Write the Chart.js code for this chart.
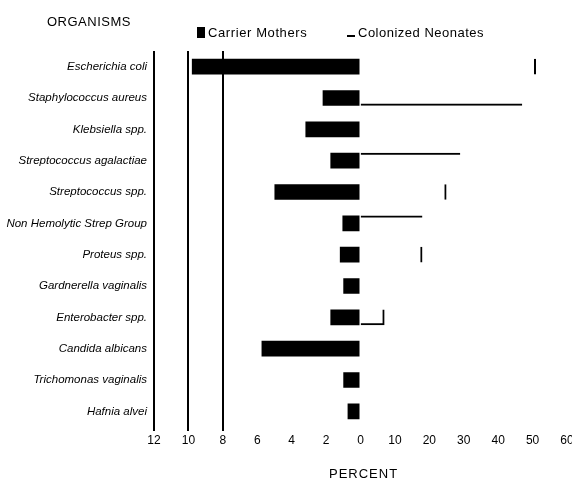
<!DOCTYPE html>
<html>
<head>
<meta charset="utf-8">
<script src="https://cdn.jsdelivr.net/npm/chart.js@4.4.0/dist/chart.umd.min.js"></script>
<style>
    body { margin: 0; background: #fff; }
    #wrap { position: relative; width: 572px; height: 482px; }
    #chart { position: absolute; left: 0; top: 0; }
    .txt { position: absolute; font-family: "Liberation Sans", Arial, sans-serif; color: #000; white-space: nowrap; }
    .sq { display: inline-block; width: 8px; height: 11px; background: #000; margin-right: 3px; vertical-align: -1px; }
    .dash { display: inline-block; width: 8px; height: 2px; background: #000; margin-right: 3px; vertical-align: 0; }
</style>
</head>
<body>
<div id="wrap">
    <canvas id="chart" width="572" height="482"></canvas>
    <div class="txt" style="left:47px;top:14px;font-size:13px;letter-spacing:0.5px;">ORGANISMS</div>
    <div class="txt" style="left:197px;top:25px;font-size:13px;letter-spacing:0.6px;"><span class="sq"></span>Carrier Mothers</div>
    <div class="txt" style="left:347px;top:25px;font-size:13px;letter-spacing:0.5px;"><span class="dash"></span>Colonized Neonates</div>
    <div class="txt" style="left:329px;top:466px;font-size:13px;letter-spacing:1px;">PERCENT</div>
</div>
<script>
// Organisms (rows, top to bottom)
const organisms = [
    'Escherichia coli',
    'Staphylococcus aureus',
    'Klebsiella spp.',
    'Streptococcus agalactiae',
    'Streptococcus spp.',
    'Non Hemolytic Strep Group',
    'Proteus spp.',
    'Gardnerella vaginalis',
    'Enterobacter spp.',
    'Candida albicans',
    'Trichomonas vaginalis',
    'Hafnia alvei'
];

// percent values
const carrierMothers = [9.8, 2.2, 3.2, 1.75, 5.0, 1.05, 1.2, 1.0, 1.75, 5.75, 1.0, 0.75];
const colonizedNeonates = [51, 47, 0, 29, 25, 18, 18, 0, 7, 0, 0, 0];

// tick labels of the two halves of the x axis
const leftTicks = [12, 10, 8, 6, 4, 2, 0];
const rightTicks = [10, 20, 30, 40, 50, 60];

// which edges of each neonate bar survive in the (scanned) original
const neonateEdges = [
    { right: 2 }, { bottom: 2 }, 0, { top: 2 }, { right: 2 }, { top: 2 },
    { right: 2 }, 0, { right: 2, bottom: 2 }, 0, 0, 0
];

const font = { family: '"Liberation Sans", Arial, sans-serif', size: 12 };

new Chart(document.getElementById('chart'), {
    type: 'bar',
    data: {
        labels: organisms,
        datasets: [
            {
                label: 'Carrier Mothers',
                data: carrierMothers,
                xAxisID: 'xl',
                backgroundColor: '#000',
                borderWidth: 0,
                barPercentage: 0.5,
                categoryPercentage: 1,
                grouped: false
            },
            {
                label: 'Colonized Neonates',
                data: colonizedNeonates,
                xAxisID: 'xr',
                backgroundColor: 'rgba(0,0,0,0)',
                borderColor: '#000',
                borderWidth: ctx => neonateEdges[ctx.dataIndex],
                borderSkipped: false,
                barPercentage: 0.5,
                categoryPercentage: 1,
                grouped: false
            }
        ]
    },
    options: {
        indexAxis: 'y',
        responsive: false,
        animation: false,
        layout: { padding: { top: 51, right: 5, bottom: 25, left: 0 } },
        plugins: {
            legend: { display: false },
            tooltip: { enabled: false }
        },
        scales: {
            y: {
                grid: { display: false, drawTicks: false },
                border: { display: false },
                ticks: {
                    color: '#000',
                    padding: 7,
                    font: { family: font.family, size: 11.5, style: 'italic' }
                },
                afterFit: s => { s.width = 154; }
            },
            xl: {
                type: 'linear',
                position: 'bottom',
                stack: 'x',
                stackWeight: 1,
                reverse: true,
                min: 0,
                max: 12,
                afterBuildTicks: s => { s.ticks = leftTicks.map(v => ({ value: v })); },
                grid: {
                    color: ctx => (ctx.tick && ctx.tick.value >= 8 ? '#000' : 'rgba(0,0,0,0)'),
                    lineWidth: 2,
                    tickLength: 4
                },
                border: { display: false },
                ticks: { color: '#000', padding: 2, font: font, maxRotation: 0 },
                afterFit: s => { s.height = 30; s.paddingLeft = 0; s.paddingRight = 0; }
            },
            xr: {
                type: 'linear',
                position: 'bottom',
                stack: 'x',
                stackWeight: 1,
                min: 0,
                max: 60,
                afterBuildTicks: s => { s.ticks = rightTicks.map(v => ({ value: v })); },
                grid: { display: false, tickLength: 4 },
                border: { display: false },
                ticks: { color: '#000', padding: 2, font: font, maxRotation: 0 },
                afterFit: s => { s.height = 30; s.paddingLeft = 0; s.paddingRight = 0; }
            }
        }
    }
});
</script>
</body>
</html>
